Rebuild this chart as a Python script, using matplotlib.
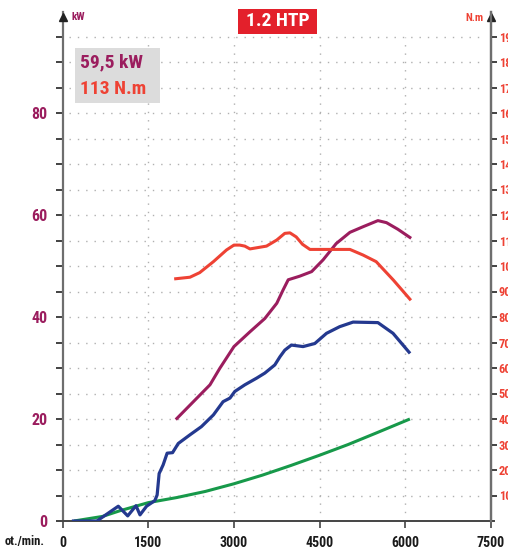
import matplotlib
matplotlib.use("Agg")
import matplotlib.pyplot as plt
from matplotlib.patches import Rectangle
from matplotlib import font_manager

# ---- data ----
rpm_power = [2000, 2290, 2580, 2750, 3000, 3280, 3540, 3750, 3860, 3950, 4150, 4360,
             4560, 4790, 5030, 5260, 5520, 5670, 5870, 6080]
power_kw = [20.1, 23.4, 26.7, 29.9, 34.2, 37.1, 39.7, 42.7, 45.3, 47.3, 48.0, 48.9,
            51.2, 54.4, 56.6, 57.7, 58.9, 58.5, 57.2, 55.6]

rpm_torque = [1980, 2230, 2400, 2640, 2870, 3000, 3100, 3190, 3280, 3570, 3750, 3890,
              3980, 4090, 4200, 4330, 5030, 5260, 5490, 5790, 6080]
torque_nm = [95, 95.6, 97.4, 101.7, 106.3, 108.2, 108.2, 107.8, 106.7, 107.8, 110.2, 112.8,
             113, 111.4, 108.5, 106.5, 106.5, 104.3, 101.7, 94.5, 87]

rpm_blue = [190, 600, 975, 1140, 1285, 1355, 1470, 1615, 1655, 1690, 1760, 1830, 1925,
            2025, 2230, 2430, 2640, 2810, 2930, 3015, 3190, 3395, 3540, 3715, 3805, 3890,
            4005, 4210, 4415, 4620, 4850, 5085, 5520, 5785, 6065]
blue_kw = [0, 0, 2.9, 1.0, 3.0, 1.2, 2.9, 4.0, 5.1, 9.3, 11, 13.3, 13.4,
           15.2, 16.9, 18.5, 20.8, 23.4, 24.1, 25.4, 26.7, 28, 29, 30.6, 32.2, 33.5,
           34.5, 34.2, 34.8, 36.8, 38.1, 39.0, 38.9, 36.8, 33.1]

rpm_green = [200, 700, 1000, 1500, 2000, 2500, 3000, 3500, 4000, 4500, 5000, 5500, 6080]
green_kw = [0, 0.9, 2.0, 3.6, 4.6, 5.8, 7.3, 9.0, 10.9, 12.9, 15.0, 17.3, 20.0]

x_ticks = [0, 1500, 3000, 4500, 6000, 7500]
kw_ticks = list(range(0, 100, 5))
kw_labels = [str(v) if v % 20 == 0 and v <= 80 else "" for v in kw_ticks]
nm_ticks = list(range(10, 200, 10))

title = "1.2 HTP"
legend_power = "59,5 kW"
legend_torque = "113 N.m"

# ---- style ----
PURPLE = "#9b1d5e"
RED = "#ee4234"
BLUE = "#24398f"
GREEN = "#17994a"
AXC = "#6e6e6e"

names = {f.name for f in font_manager.fontManager.ttflist}
fam = "Roboto"
for cand in ["Liberation Sans Narrow", "Roboto Condensed", "Open Sans Condensed", "Roboto"]:
    if cand in names:
        fam = cand
        break
FONT = dict(family=[fam, "DejaVu Sans"], fontweight="bold")

W, H = 508, 549
fig = plt.figure(figsize=(W / 100, H / 100), dpi=100)
ymax = (521 - 12) / 5.1
ax = fig.add_axes([62.6 / W, (H - 521) / H, (491 - 62.6) / W, (521 - 12) / H])
ax.set_xlim(0, 7500)
ax.set_ylim(0, ymax)

# grid
for v in range(5, 100, 5):
    ax.plot([120, 7400], [v, v], ls=(0, (1, 5)), color="#b0b0b0", lw=1.0, zorder=1)
for x in [1500, 3000, 4500, 6000]:
    ax.plot([x, x], [0, 95], ls=(0, (1, 5)), color="#b0b0b0", lw=1.0, zorder=1)

# curves
ax.plot(rpm_green, green_kw, color=GREEN, lw=2.2, zorder=3, solid_capstyle="butt")
ax.plot(rpm_blue, blue_kw, color=BLUE, lw=2.3, zorder=4, solid_joinstyle="round")
ax.plot(rpm_power, power_kw, color=PURPLE, lw=2.2, zorder=4)
ax.plot(rpm_torque, [t / 2 for t in torque_nm], color=RED, lw=2.2, zorder=4)

# spines
ax.spines["top"].set_visible(False)
ax.spines["left"].set_color(AXC)
ax.spines["right"].set_color(AXC)
ax.spines["left"].set_linewidth(1.6)
ax.spines["right"].set_linewidth(1.6)
ax.spines["bottom"].set_color("#444444")
ax.spines["bottom"].set_linewidth(1.4)
ax.spines["bottom"].set_bounds(0, 7560)

# arrows at the top of vertical axes
ax.plot([0], [ymax - 1.0], marker="^", ms=6, color="#222222", clip_on=False, zorder=6)
ax.plot([7500], [ymax - 1.0], marker="^", ms=6, color="#222222", clip_on=False, zorder=6)

# ticks
ax.set_xticks(x_ticks)
ax.set_xticklabels([str(v) for v in x_ticks], fontsize=10, color="#1a1a1a", **FONT)
ax.tick_params(axis="x", length=5, width=1.2, color="#444444", pad=6)
ax.set_yticks(kw_ticks)
ax.set_yticklabels(kw_labels, fontsize=11.5, color=PURPLE, **FONT)
ax.tick_params(axis="y", length=5, width=1.2, color="#222222", pad=6)

ax2 = ax.twinx()
ax2.set_ylim(0, 2 * ymax)
ax2.set_yticks(nm_ticks)
ax2.set_yticklabels([str(v) for v in nm_ticks], fontsize=9, color=RED, **FONT)
ax2.tick_params(axis="y", length=4, width=1.2, color="#222222", pad=1.5)
for s in ["top", "left", "bottom"]:
    ax2.spines[s].set_visible(False)
ax2.spines["right"].set_color(AXC)
ax2.spines["right"].set_linewidth(1.6)

# texts
fig.text(5 / W, 1 - 541 / H, "ot./min.", fontsize=9, color="#1a1a1a", va="center", ha="left", **FONT)
fig.text(72 / W, 1 - 17 / H, "kW", fontsize=8, color=PURPLE, va="center", ha="left", **FONT)
fig.text(483 / W, 1 - 18 / H, "N.m", fontsize=8, color=RED, va="center", ha="right", **FONT)

# title box
fig.patches.append(Rectangle((238 / W, 1 - 34 / H), 79 / W, 25 / H, transform=fig.transFigure,
                             facecolor="#e3202b", edgecolor="none", zorder=5))
fig.text(277.5 / W, 1 - 21.5 / H, title, fontsize=14, color="white", va="center", ha="center",
         zorder=6, **FONT)

# legend box
fig.patches.append(Rectangle((75 / W, 1 - 103 / H), 85 / W, 55 / H, transform=fig.transFigure,
                             facecolor="#dcdcdc", edgecolor="none", zorder=5))
fig.text(80 / W, 1 - 62 / H, legend_power, fontsize=14, color=PURPLE, va="center", ha="left",
         zorder=6, **FONT)
fig.text(80 / W, 1 - 89 / H, legend_torque, fontsize=14, color=RED, va="center", ha="left",
         zorder=6, **FONT)

fig.savefig("out.png", dpi=100)
